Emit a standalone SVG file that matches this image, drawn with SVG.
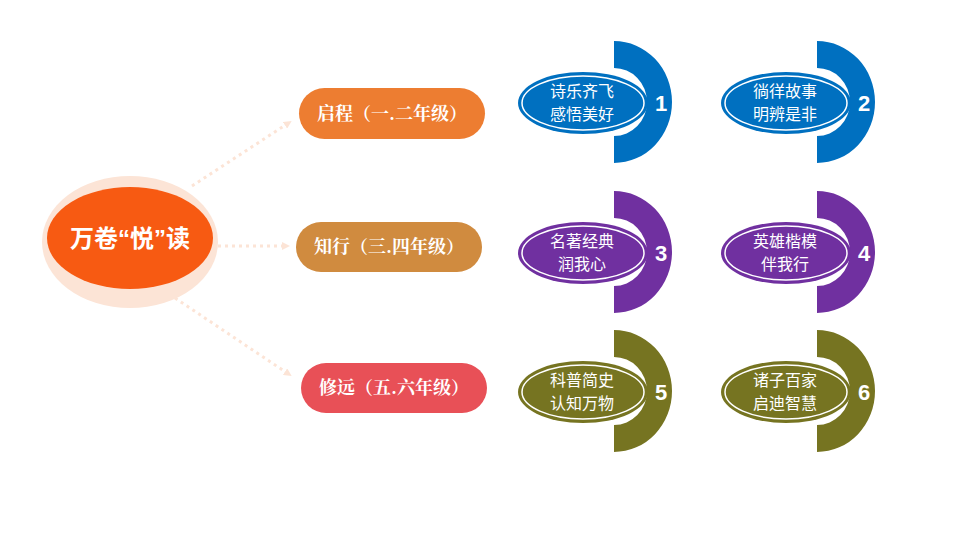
<svg xmlns="http://www.w3.org/2000/svg" width="960" height="540" viewBox="0 0 960 540">
<defs>
<style>
.cn{font-family:"Noto Sans CJK SC",sans-serif;fill:#fff}
.pl{font-family:"Noto Serif CJK SC","Noto Sans CJK SC",serif;font-size:18px;fill:#fff;font-weight:bold;text-anchor:middle}
.el{font-size:16px;text-anchor:middle}
.num{font-family:"Liberation Sans",sans-serif;font-weight:bold;font-size:22px;fill:#fff;text-anchor:middle}
.cl{stroke:#FCE4D6;stroke-width:3;stroke-dasharray:3 4;fill:none}
.q{font-family:"Liberation Sans",sans-serif}
</style>
<marker id="ar" markerWidth="8" markerHeight="8" refX="6" refY="4" orient="auto" markerUnits="userSpaceOnUse"><path d="M0,0L8,4L0,8z" fill="#FCE4D6"/></marker>
</defs>
<rect width="960" height="540" fill="#fff"/>
<g id="connectors">
<path class="cl" d="M192,186L290,122" marker-end="url(#ar)"/>
<path class="cl" d="M218,246L288,246" marker-end="url(#ar)"/>
<path class="cl" d="M175,298L290,375" marker-end="url(#ar)"/>
</g>
<g id="center">
<ellipse cx="130" cy="242" rx="88" ry="66" fill="#FCE4D6"/>
<ellipse cx="130" cy="238" rx="83" ry="51" fill="#F75A12"/>
<text x="130" y="247" class="cn" font-size="24" font-weight="bold" text-anchor="middle">万卷<tspan class="q">“</tspan>悦<tspan class="q">”</tspan>读</text>
</g>
<g id="p1"><rect x="299" y="88" width="186" height="51" rx="25.5" fill="#ED7D31"/><text x="392" y="120" class="pl">启程（一.二年级）</text></g>
<g id="p2"><rect x="296" y="222" width="186" height="50" rx="25" fill="#D08B3F"/><text x="389" y="253" class="pl">知行（三.四年级）</text></g>
<g id="p3"><rect x="301" y="363" width="186" height="50" rx="25" fill="#E85057"/><text x="394" y="394" class="pl">修远（五.六年级）</text></g>
<g id="c1">
<path d="M614,41A58,61 0 0 1 614,163L614,136A33,34 0 0 0 614,68Z" fill="#0070C0"/>
<ellipse cx="583" cy="103" rx="65" ry="31" fill="#0070C0"/>
<ellipse cx="583" cy="103" rx="61" ry="27" fill="none" stroke="#fff" stroke-width="1.5"/>
<text class="cn el" x="582" y="97">诗乐齐飞</text><text class="cn el" x="582" y="120">感悟美好</text>
<text x="661" y="111" class="num">1</text>
</g>
<g id="c2">
<path d="M817,41A58,61 0 0 1 817,163L817,136A33,34 0 0 0 817,68Z" fill="#0070C0"/>
<ellipse cx="786" cy="103" rx="65" ry="31" fill="#0070C0"/>
<ellipse cx="786" cy="103" rx="61" ry="27" fill="none" stroke="#fff" stroke-width="1.5"/>
<text class="cn el" x="785" y="97">徜徉故事</text><text class="cn el" x="785" y="120">明辨是非</text>
<text x="864" y="111" class="num">2</text>
</g>
<g id="c3">
<path d="M614,191A58,61 0 0 1 614,313L614,286A33,34 0 0 0 614,218Z" fill="#7030A0"/>
<ellipse cx="583" cy="253" rx="65" ry="31" fill="#7030A0"/>
<ellipse cx="583" cy="253" rx="61" ry="27" fill="none" stroke="#fff" stroke-width="1.5"/>
<text class="cn el" x="582" y="247">名著经典</text><text class="cn el" x="582" y="270">润我心</text>
<text x="661" y="261" class="num">3</text>
</g>
<g id="c4">
<path d="M817,191A58,61 0 0 1 817,313L817,286A33,34 0 0 0 817,218Z" fill="#7030A0"/>
<ellipse cx="786" cy="253" rx="65" ry="31" fill="#7030A0"/>
<ellipse cx="786" cy="253" rx="61" ry="27" fill="none" stroke="#fff" stroke-width="1.5"/>
<text class="cn el" x="785" y="247">英雄楷模</text><text class="cn el" x="785" y="270">伴我行</text>
<text x="864" y="261" class="num">4</text>
</g>
<g id="c5">
<path d="M614,330A58,61 0 0 1 614,452L614,425A33,34 0 0 0 614,357Z" fill="#767421"/>
<ellipse cx="583" cy="392" rx="65" ry="31" fill="#767421"/>
<ellipse cx="583" cy="392" rx="61" ry="27" fill="none" stroke="#fff" stroke-width="1.5"/>
<text class="cn el" x="582" y="386">科普简史</text><text class="cn el" x="582" y="409">认知万物</text>
<text x="661" y="400" class="num">5</text>
</g>
<g id="c6">
<path d="M817,330A58,61 0 0 1 817,452L817,425A33,34 0 0 0 817,357Z" fill="#767421"/>
<ellipse cx="786" cy="392" rx="65" ry="31" fill="#767421"/>
<ellipse cx="786" cy="392" rx="61" ry="27" fill="none" stroke="#fff" stroke-width="1.5"/>
<text class="cn el" x="785" y="386">诸子百家</text><text class="cn el" x="785" y="409">启迪智慧</text>
<text x="864" y="400" class="num">6</text>
</g>
</svg>
